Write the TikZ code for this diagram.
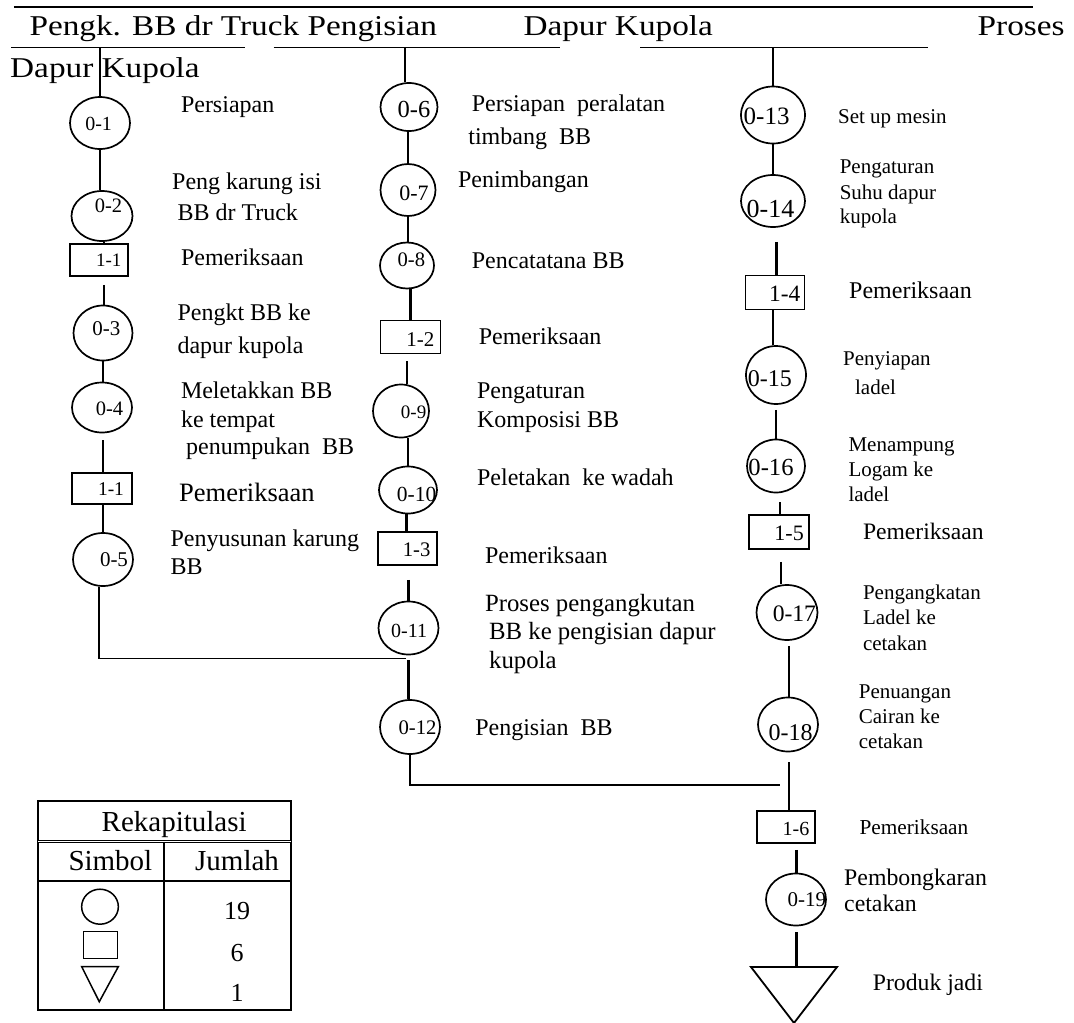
\documentclass[tikz,border=0pt]{standalone}
\usepackage{fontspec}
\setmainfont{Liberation Serif}
\newfontfamily\hfont[FakeStretch=1.16]{Liberation Serif}
\usetikzlibrary{shapes.geometric,calc}
\newcommand\fs[1]{\fontsize{#1}{#1}\selectfont}
\begin{document}
\begin{tikzpicture}[x=1pt,y=-1pt,
  oval/.style={draw, ellipse, inner sep=0pt, line width=1.7pt},
  box/.style={draw, rectangle, inner sep=0pt, line width=1.7pt},
  lab/.style={anchor=base west, inner sep=0pt, font=\fs{24}},
  labs/.style={anchor=base west, inner sep=0pt, font=\fs{21}},
  num/.style={inner sep=0pt, anchor=center},
  hd/.style={anchor=base west, inner sep=0pt, font=\hfont\fs{28.7}},
  conn/.style={line width=2.1pt},
  thin/.style={line width=1.5pt},
  rule/.style={line width=1.8pt},
]
\useasboundingbox (0,0) rectangle (1074,1023);
\fill[white] (0,0) rectangle (1074,1023);

% ---------- header ----------
\draw[rule] (13.8,6.8) -- (1033,6.8);
\node[hd] (hA) at (29.3,35.5) {Pengk. BB dr Truck Pengisian};
\node[hd] (hB) at (523.3,35.5) {Dapur Kupola};
\node[hd] (hC) at (977.5,35.5) {Proses};
\node[hd] (hD) at (10,77.5) {Dapur Kupola};
\draw[rule] (11.4,47.5) -- (244.5,47.5);
\draw[rule] (273.7,47.5) -- (559.5,47.5);
\draw[rule] (640.2,47.5) -- (928,47.5);
\coordinate (h1) at (100,47.5);
\coordinate (h2) at (405,47.5);
\coordinate (h3) at (773,47.5);

% ---------- column 1 ----------
\node[oval, minimum width=60pt, minimum height=52pt] (e01) at (100,123) {};
\node[oval, minimum width=61pt, minimum height=50pt] (e02) at (102,216) {};
\node[box, minimum width=58pt, minimum height=32pt] (r1) at (99,260) {};
\node[oval, minimum width=59pt, minimum height=55pt] (e03) at (103,333) {};
\node[oval, minimum width=60pt, minimum height=50pt] (e04) at (102,407.5) {};
\node[box, minimum width=60pt, minimum height=31pt] (r2) at (102,488.5) {};
\node[oval, minimum width=60pt, minimum height=53pt] (e05) at (103,559.5) {};

\node[num, font=\fs{20}] (n01) at (98.6,123.5) {0-1};
\node[num, font=\fs{20.5}] (n02) at (108.5,205.7) {0-2};
\node[num, font=\fs{19}] (m1) at (108.8,260) {1-1};
\node[num, font=\fs{21}] (n03) at (106.4,329) {0-3};
\node[num, font=\fs{20.5}] (n04) at (109.5,408.4) {0-4};
\node[num, font=\fs{19.5}] (m2) at (111,489.5) {1-1};
\node[num, font=\fs{21}] (n05) at (114,559.4) {0-5};

\node[lab] (a1) at (180.8,112) {Persiapan};
\node[lab] (a2) at (172,189.4) {Peng karung isi};
\node[lab] (a2b) at (177.3,220.4) {BB dr Truck};
\node[lab] (a3) at (180.8,265) {Pemeriksaan};
\node[lab] (a4) at (177.3,320.6) {Pengkt BB ke};
\node[lab] (a4b) at (177.3,353.3) {dapur kupola};
\node[lab] (a5) at (180.8,398) {Meletakkan BB};
\node[lab] (a5b) at (180.8,427.3) {ke tempat};
\node[lab] (a5c) at (185.9,454.9) {penumpukan\ \ BB};
\node[lab, font=\fs{26.5}] (a6) at (179,501.3) {Pemeriksaan};
\node[lab] (a7) at (170.4,546.5) {Penyusunan karung};
\node[lab] (a7b) at (170.4,574) {BB};

% ---------- column 2 ----------
\node[oval, minimum width=57pt, minimum height=48pt] (e06) at (409,107) {};
\node[oval, minimum width=55pt, minimum height=52pt] (e07) at (408,190) {};
\node[oval, minimum width=54pt, minimum height=46pt] (e08) at (407,265.5) {};
\node[box, minimum width=60pt, minimum height=33pt] (r3) at (410.5,337) {};
\node[oval, minimum width=56pt, minimum height=53pt] (e09) at (401,411) {};
\node[oval, minimum width=58pt, minimum height=47pt] (e10) at (408,490) {};
\node[box, minimum width=59pt, minimum height=33pt] (r4) at (407.5,548.5) {};
\node[oval, minimum width=60pt, minimum height=53pt] (e11) at (408.5,628) {};
\node[oval, minimum width=60pt, minimum height=54pt] (e12) at (410,727) {};

\node[num, font=\fs{24.5}] (n06) at (414,109.3) {0-6};
\node[num, font=\fs{22}] (n07) at (414,193.7) {0-7};
\node[num, font=\fs{20.6}] (n08) at (411.4,259.5) {0-8};
\node[num, font=\fs{21}] (m3) at (420.4,339.5) {1-2};
\node[num, font=\fs{19}] (n09) at (413.6,412.7) {0-9};
\node[num, font=\fs{21.5}] (n10) at (416.6,494.5) {0-10};
\node[num, font=\fs{20.7}] (m4) at (416.6,550) {1-3};
\node[num, font=\fs{20}] (n11) at (409.2,630.9) {0-11};
\node[num, font=\fs{20.7}] (n12) at (417.6,728) {0-12};

\node[lab] (b1) at (471.7,111.9) {Persiapan\ \ peralatan};
\node[lab] (b1b) at (468.2,144.6) {timbang\ \ BB};
\node[lab] (b2) at (457.9,187.6) {Penimbangan};
\node[lab] (b3) at (471.7,268.5) {Pencatatana BB};
\node[lab] (b4) at (478.6,344.7) {Pemeriksaan};
\node[lab] (b5) at (476.9,398) {Pengaturan};
\node[lab] (b5b) at (476.9,427.3) {Komposisi BB};
\node[lab] (b6) at (476.9,485.2) {Peletakan\ \ ke wadah};
\node[lab] (b7) at (484.8,563.7) {Pemeriksaan};
\node[lab, font=\fs{24.8}] (b8) at (484.8,611.9) {Proses pengangkutan};
\node[lab, font=\fs{24.8}] (b8b) at (488.9,639.4) {BB ke pengisian dapur};
\node[lab, font=\fs{24.8}] (b8c) at (488.9,668.7) {kupola};
\node[lab] (b9) at (475.1,735.8) {Pengisian\ \ BB};

% ---------- column 3 ----------
\node[oval, minimum width=64pt, minimum height=57pt] (e13) at (773,115) {};
\node[oval, minimum width=64pt, minimum height=52pt] (e14) at (773,201) {};
\node[box, minimum width=59pt, minimum height=34pt] (r5) at (775,292.5) {};
\node[oval, minimum width=60pt, minimum height=58pt] (e15) at (776,375) {};
\node[oval, minimum width=58pt, minimum height=53pt] (e16) at (776,466) {};
\node[box, minimum width=60pt, minimum height=34pt] (r6) at (779,532) {};
\node[oval, minimum width=61pt, minimum height=55pt] (e17) at (787,612.5) {};
\node[oval, minimum width=60pt, minimum height=54pt] (e18) at (788,724.5) {};
\node[box, minimum width=58pt, minimum height=32pt] (r7) at (786,827) {};
\node[oval, minimum width=60pt, minimum height=52pt] (e19) at (796,899.5) {};
\coordinate (tl) at (751,967);
\coordinate (tr) at (837,967);
\coordinate (tb) at (794,1023);
\coordinate (tt) at (794,967);

\node[num, font=\fs{25}] (n13) at (766.6,116.2) {0-13};
\node[num, font=\fs{26}] (n14) at (770.5,208.8) {0-14};
\node[num, font=\fs{23.4}] (m5) at (784.8,294.2) {1-4};
\node[num, font=\fs{24}] (n15) at (769.8,379.1) {0-15};
\node[num, font=\fs{24.6}] (n16) at (771,467.6) {0-16};
\node[num, font=\fs{22}] (m6) at (789.1,533.8) {1-5};
\node[num, font=\fs{23.6}] (n17) at (794.4,613.5) {0-17};
\node[num, font=\fs{24}] (n18) at (790.5,732.9) {0-18};
\node[num, font=\fs{20}] (m7) at (796,829) {1-6};
\node[num, font=\fs{21}] (n19) at (806.8,899.2) {0-19};

\node[labs] (c1) at (837.9,123.1) {Set up mesin};
\node[labs] (c2) at (839.6,173.4) {Pengaturan};
\node[labs] (c2b) at (839.6,199.4) {Suhu dapur};
\node[labs] (c2c) at (839.6,223.6) {kupola};
\node[lab] (c3) at (849,298.5) {Pemeriksaan};
\node[labs] (c4) at (843,365.5) {Penyiapan};
\node[labs] (c4b) at (854.9,394.9) {ladel};
\node[labs] (c5) at (848.3,451.1) {Menampung};
\node[labs] (c5b) at (848.3,476) {Logam ke};
\node[labs] (c5c) at (848.3,501.4) {ladel};
\node[lab, font=\fs{23.6}] (c6) at (862.8,539.9) {Pemeriksaan};
\node[labs] (c7) at (862.8,599.8) {Pengangkatan};
\node[labs] (c7b) at (862.8,624.8) {Ladel ke};
\node[labs] (c7c) at (862.8,650.1) {cetakan};
\node[labs] (c8) at (858.7,698.3) {Penuangan};
\node[labs] (c8b) at (858.7,723.6) {Cairan ke};
\node[labs] (c8c) at (858.7,748.9) {cetakan};
\node[labs, font=\fs{21.3}] (c9) at (859.3,834) {Pemeriksaan};
\node[lab, font=\fs{23.8}] (c10) at (844,885) {Pembongkaran};
\node[lab, font=\fs{23.8}] (c10b) at (844,911.7) {cetakan};
\node[lab, font=\fs{23.7}] (c11) at (872.7,990.7) {Produk jadi};

% ---------- connectors ----------
\coordinate (j1) at (406.3,658.4);
\coordinate (j2) at (780,785);
% column 1
\draw[conn] (h1) -- (h1 |- e01.north);
\draw[thin] (e01.south) -- (e01.south |- e02.north);
\draw[conn] ($(e02.south)+(2,0)$) -- ($(e02.south |- r1.north)+(2,0)$);
\draw[conn] ($(e03.north |- r1.south)+(1,8)$) -- ($(e03.north)+(1,0)$);
\draw[conn] (e03.south) -- (e03.south |- e04.north);
\draw[conn] ($(e04.south)+(1,7)$) -- ($(e04.south |- r2.north)+(1,0)$);
\draw[conn] (e05.north |- r2.south) -- (e05.north);
\draw[thin] ($(e05.south)+(-4,0)$) |- (j1);
% column 2
\draw[conn] (h2) -- (h2 |- e06.north);
\draw[conn] (e07.north |- e06.south) -- (e07.north);
\draw[conn] (e07.south) -- (e07.south |- e08.north);
\draw[conn] (r3.north |- e08.south) -- (r3.north);
\draw[conn] ($(e09.north |- r3.south)+(6,7)$) -- ($(e09.north)+(6,0)$);
\draw[conn] (e10.north |- e09.south) -- (e10.north);
\draw[conn] ($(e10.south)+(-1.5,0)$) -- ($(e10.south |- r4.north)+(-1.5,0)$);
\draw[conn] ($(e11.north |- r4.south)+(0,14)$) -- (e11.north);
\draw[conn] ($(e11.south)+(0,5)$) -- (e11.south |- e12.north);
\draw[conn] (e12.south) |- (j2);
% column 3
\draw[conn] (h3) -- (h3 |- e13.north);
\draw[conn] (e13.south) -- (e13.south |- e14.north);
\draw[conn] ($(e14.south)+(3.5,14)$) -- ($(e14.south |- r5.north)+(3.5,0)$);
\draw[conn] ($(r5.south)+(-2,0)$) -- ($(r5.south |- e15.north)+(-2,0)$);
\draw[conn] ($(e15.south)+(0,5)$) -- (e15.south |- e16.north);
\draw[conn] ($(r6.north |- e16.south)+(1,9)$) -- ($(r6.north)+(1,0)$);
\draw[conn] ($(r6.south)+(2,12)$) -- ($(r6.south |- e17.north)+(2,0)$);
\draw[conn] ($(e18.north |- e17.south)+(1,5)$) -- ($(e18.north)+(1,0)$);
\draw[conn] ($(e18.south)+(1,10)$) -- ($(e18.south |- r7.north)+(1,0)$);
\draw[conn] ($(e19.north |- r7.south)+(0.5,6)$) -- ($(e19.north)+(0.5,0)$);
\draw[conn] ($(e19.south)+(0.5,6)$) -- ($(e19.south |- tt)+(0.5,0)$);
\draw[rule, line join=miter] (tl) -- (tr) -- (tb) -- cycle;

% ---------- recap table ----------
\draw[rule] (38.3,800.7) rectangle (290.7,1010);
\draw[line width=1pt, double, double distance=0.8pt] (38.3,841.5) -- (290.7,841.5);
\draw[rule] (38.3,881) -- (290.7,881);
\draw[rule] (164,842.5) -- (164,1010);
\node[anchor=base, inner sep=0pt, font=\fs{29}] (rk) at (174.2,831.7) {Rekapitulasi};
\node[anchor=base west, inner sep=0pt, font=\fs{29}] (sb) at (68.3,870.7) {Simbol};
\node[anchor=base west, inner sep=0pt, font=\fs{29}] (jm) at (195,870.7) {Jumlah};
\node[oval, line width=1.5pt, minimum width=36.7pt, minimum height=35pt] (sc) at (100,906.7) {};
\node[box, line width=1.5pt, minimum width=34pt, minimum height=26.6pt] (sq) at (100.3,945) {};
\coordinate (s1) at (81.7,966.7);
\coordinate (s2) at (118.3,966.7);
\coordinate (s3) at (99.3,1001.7);
\draw[line width=1.5pt, line join=miter] (s1) -- (s2) -- (s3) -- cycle;
\node[anchor=base, inner sep=0pt, font=\fs{26}] (v1) at (237,919.3) {19};
\node[anchor=base, inner sep=0pt, font=\fs{26}] (v2) at (237,961.7) {6};
\node[anchor=base, inner sep=0pt, font=\fs{26}] (v3) at (237,1001.7) {1};
\end{tikzpicture}
\end{document}
